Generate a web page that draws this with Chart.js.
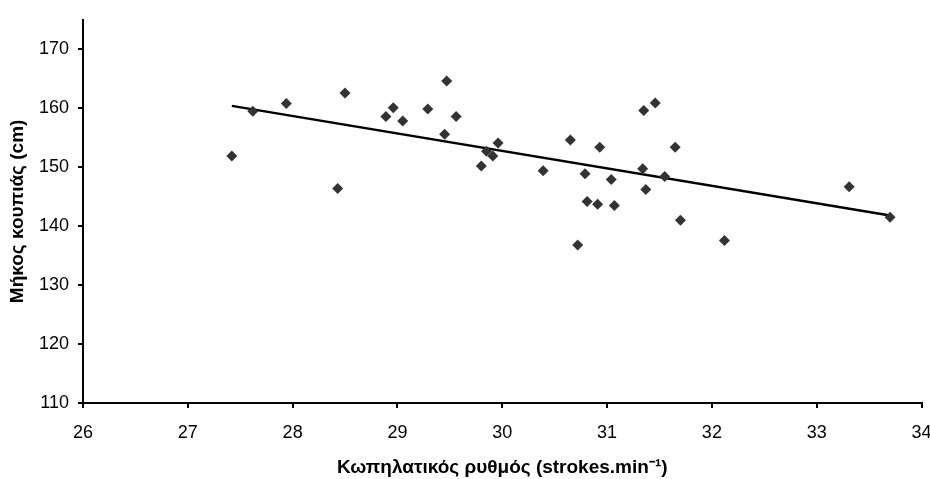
<!DOCTYPE html>
<html>
<head>
<meta charset="utf-8">
<script src="https://cdn.jsdelivr.net/npm/chart.js@4.4.0/dist/chart.umd.min.js"></script>
<style>
  html, body { margin: 0; padding: 0; background: #fff; }
  #wrap { width: 930px; height: 479px; }
</style>
</head>
<body>
<div id="wrap"><canvas id="myChart"></canvas></div>
<script>
  // Κωπηλατικός ρυθμός (x) και μήκος κουπιάς (y), διαβασμένα από την εικόνα
  const rythmos = [
    27.42, 27.62, 27.94, 28.43, 28.50, 28.89, 28.96, 29.05, 29.29, 29.47,
    29.45, 29.56, 29.96, 29.85, 29.91, 29.80, 30.39, 30.65, 30.79, 30.93,
    30.72, 30.81, 30.91, 31.04, 31.07, 31.34, 31.35, 31.46, 31.37, 31.55,
    31.65, 31.70, 32.12, 33.31, 33.70
  ];
  const mikos = [
    151.9, 159.5, 160.8, 146.4, 162.6, 158.6, 160.1, 157.85, 159.85, 164.6,
    155.6, 158.6, 154.1, 152.7, 151.9, 150.2, 149.4, 154.6, 148.9, 153.4,
    136.8, 144.2, 143.7, 147.9, 143.5, 149.75, 159.6, 160.9, 146.2, 148.4,
    153.4, 141.0, 137.55, 146.7, 141.5
  ];

  // Γραμμή τάσης (άκρα)
  const trendX = [27.42, 33.70];
  const trendY = [160.4, 141.8];

  const xTicks = [26, 27, 28, 29, 30, 31, 32, 33, 34];
  const yTicks = [110, 120, 130, 140, 150, 160, 170];

  const fontFamily = '"Liberation Sans", Arial, sans-serif';

  const pontoi = rythmos.map((x, i) => ({ x: x, y: mikos[i] }));
  const tasi = trendX.map((x, i) => ({ x: x, y: trendY[i] }));

  new Chart(document.getElementById('myChart'), {
    type: 'scatter',
    data: {
      datasets: [
        {
          data: pontoi,
          pointStyle: 'rectRot',
          pointRadius: 5.5,
          backgroundColor: '#333333',
          borderColor: '#333333',
          borderWidth: 0
        },
        {
          type: 'line',
          data: tasi,
          borderColor: '#000',
          borderWidth: 2.5,
          pointRadius: 0,
          fill: false
        }
      ]
    },
    options: {
      responsive: true,
      maintainAspectRatio: false,
      animation: false,
      layout: { padding: { top: 12, right: 0, left: 0, bottom: 0 } },
      plugins: {
        legend: { display: false },
        tooltip: { enabled: false }
      },
      scales: {
        x: {
          type: 'linear',
          min: 26,
          max: 34,
          afterBuildTicks: s => { s.ticks = xTicks.map(v => ({ value: v })); },
          afterFit: s => {
            s.height = 76;
            // το 34 χωράει δεξιά χωρίς να μικραίνει η περιοχή του γραφήματος
            s.paddingLeft = 0;
            s.paddingRight = 8.5;
          },
          grid: { drawOnChartArea: false, tickLength: 5, color: '#000', lineWidth: 2 },
          border: { color: '#000', width: 2 },
          ticks: { color: '#000', font: { family: fontFamily, size: 18 }, padding: 14, maxRotation: 0 },
          title: {
            display: true,
            text: 'Κωπηλατικός ρυθμός (strokes.min⁻¹)',
            color: '#000',
            font: { family: fontFamily, size: 19, weight: 'bold' },
            padding: { top: 8, bottom: 0 }
          }
        },
        y: {
          min: 110,
          max: 175,
          afterBuildTicks: s => { s.ticks = yTicks.map(v => ({ value: v })); },
          afterFit: s => { s.width = 83; },
          grid: { drawOnChartArea: false, tickLength: 5, color: '#000', lineWidth: 2 },
          border: { color: '#000', width: 2 },
          ticks: { color: '#000', font: { family: fontFamily, size: 18 }, padding: 9 },
          title: {
            display: true,
            text: 'Μήκος κουπιάς (cm)',
            color: '#000',
            font: { family: fontFamily, size: 19, weight: 'bold' },
            padding: { top: 6, bottom: 0 }
          }
        }
      }
    }
  });
</script>
</body>
</html>
